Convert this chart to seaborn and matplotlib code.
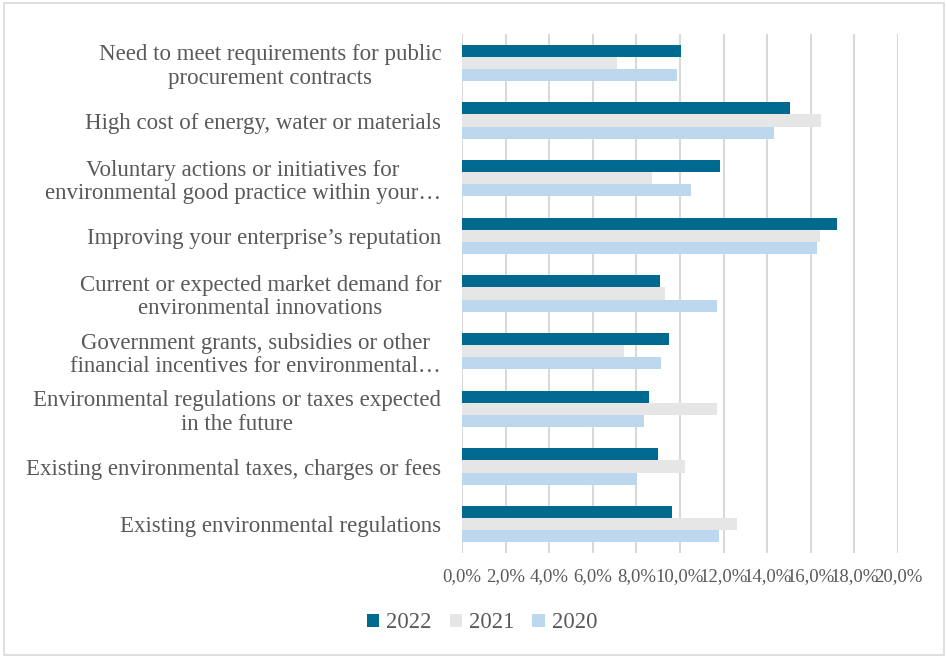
import matplotlib
matplotlib.use("Agg")
import matplotlib.pyplot as plt
import seaborn as sns
import pandas as pd
from matplotlib.patches import Rectangle, Patch
from matplotlib.ticker import FuncFormatter, MultipleLocator

categories = [
    "Need to meet requirements for public\nprocurement contracts",
    "High cost of energy, water or materials",
    "Voluntary actions or initiatives for\nenvironmental good practice within your…",
    "Improving your enterprise’s reputation",
    "Current or expected market demand for\nenvironmental innovations",
    "Government grants, subsidies or other\nfinancial incentives for environmental…",
    "Environmental regulations or taxes expected\nin the future",
    "Existing environmental taxes, charges or fees",
    "Existing environmental regulations",
]
years = ["2022", "2021", "2020"]
v2022 = [10.05, 15.05, 11.85, 17.2, 9.1, 9.5, 8.6, 9.0, 9.65]
v2021 = [7.1, 16.45, 8.7, 16.4, 9.3, 7.45, 11.7, 10.25, 12.6]
v2020 = [9.85, 14.3, 10.5, 16.3, 11.7, 9.15, 8.35, 8.05, 11.8]
colors = ["#00698F", "#E6E6E6", "#BDD7EE"]

df = pd.DataFrame({
    "category": categories * 3,
    "year": [y for y in years for _ in categories],
    "value": v2022 + v2021 + v2020,
})

sns.set_theme(style="white")
plt.rcParams["font.family"] = ["Liberation Serif", "DejaVu Serif"]
txt = "#595959"

fig = plt.figure(figsize=(9.46, 6.57), dpi=100)
ax = fig.add_axes([462 / 946, 1 - 553 / 657, (898 - 462) / 946, (553 - 34) / 657])

sns.barplot(data=df, y="category", x="value", hue="year", order=categories,
            hue_order=years, palette=colors, orient="h", width=0.63, gap=0,
            ax=ax, legend=True, saturation=1, linewidth=0)

ax.set_xlim(0, 20)
ax.xaxis.set_major_locator(MultipleLocator(2))
ax.xaxis.set_major_formatter(FuncFormatter(lambda v, p: f"{v:.1f}%".replace(".", ",")))
ax.grid(axis="x", color="#D9D9D9", linewidth=1.5)
ax.set_axisbelow(True)
for s in ax.spines.values():
    s.set_visible(False)
ax.set_xlabel("")
ax.set_ylabel("")
ax.tick_params(axis="y", length=0, pad=15, labelsize=16.5, labelcolor=txt)
ax.tick_params(axis="x", length=0, pad=11, labelsize=13.5, labelcolor=txt)
for lab in ax.get_yticklabels():
    lab.set_multialignment("center")
    lab.set_linespacing(1.15)

ax.get_legend().remove()
handles = [Patch(facecolor=c, edgecolor="none") for c in colors]
fig.legend(handles, years, loc="center", bbox_to_anchor=(482 / 946, 1 - 623 / 657),
           ncol=3, frameon=False, fontsize=16.3, handlelength=0.55, handleheight=0.55,
           handletextpad=0.3, columnspacing=0.8, labelcolor=txt)

fig.patches.append(Rectangle((4 / 946, 2 / 657), 940 / 946, 652 / 657, transform=fig.transFigure,
                             fill=False, edgecolor="#D9D9D9", linewidth=1.2))

fig.savefig("out.png", dpi=100)
